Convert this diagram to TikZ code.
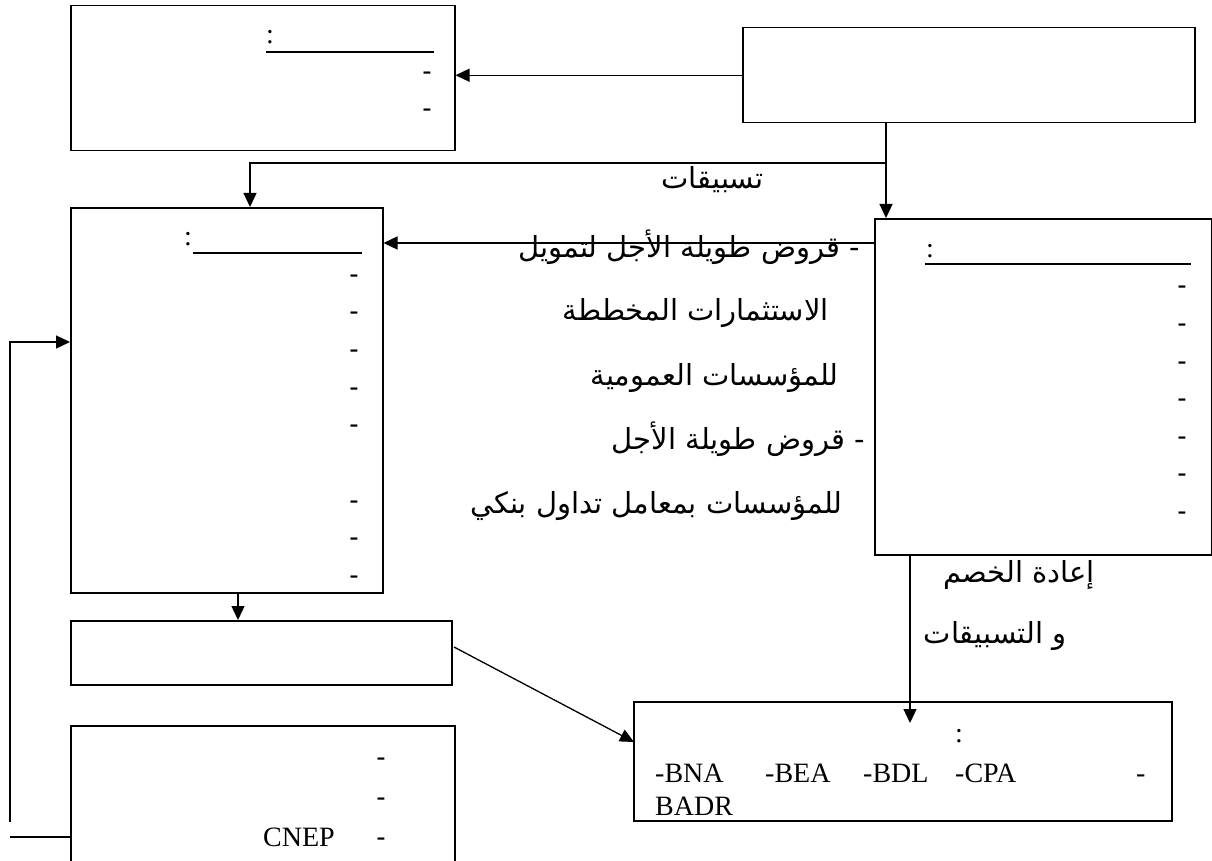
\documentclass[tikz,border=0pt]{standalone}
\usepackage{fontspec}
\usetikzlibrary{arrows.meta}
\TeXXeTstate=1
\newfontfamily\arabicfont[Script=Arabic]{DejaVu Sans}
\newfontfamily\tnr{Liberation Serif}
\newfontfamily\arl{Liberation Sans}
\tikzset{
  box/.style={draw, line width=1.5pt, inner sep=0pt, anchor=north west},
  conn/.style={line width=1.3pt},
  arr/.style={line width=1.3pt, -{Triangle[length=14pt,width=13pt]}},
  ar/.style={font=\arabicfont\fontsize{29}{32}\selectfont, inner sep=0pt, anchor=base east},
  lat/.style={font=\tnr\fontsize{28}{32}\selectfont, inner sep=0pt, anchor=base west},
  dsh/.style={font=\arl\fontsize{28}{32}\selectfont, inner sep=0pt, anchor=base east},
  ul/.style={line width=1.6pt}
}
\begin{document}
\begin{tikzpicture}[x=1pt,y=-1pt]
\useasboundingbox (0,0) rectangle (1212,861);
\clip (0,0) rectangle (1212,861);
\fill[white] (0,0) rectangle (1212,861);
% boxes
\node[box, minimum width=384pt, minimum height=145pt] (A) at (70,5) {};
\node[box, minimum width=452pt, minimum height=95pt] (B) at (742,27) {};
\node[box, minimum width=312pt, minimum height=385pt] (C) at (70,207) {};
\node[box, minimum width=337pt, minimum height=336pt] (D) at (874,218) {};
\node[box, minimum width=381pt, minimum height=64pt] (E) at (70,620) {};
\node[box, minimum width=538pt, minimum height=119pt] (F) at (633,701) {};
\node[box, minimum width=384pt, minimum height=170pt] (G) at (70,725) {};
% box A contents
\node[lat] (acol) at (266,44) {:};
\draw[ul] (266,52) -- (434,52);
\node[dsh] (a1) at (432,81) {-};
\node[dsh] (a2) at (432,118) {-};
% box C contents
\node[lat] (ccol) at (184,245) {:};
\draw[ul] (193,253) -- (362,253);
\foreach \yy/\nm in {275/c1,312/c2,350/c3,388/c4,425/c5,501/c6,538/c7,576/c8}
  \node[dsh] (\nm) at (359,\yy+8) {-};
% box D contents
\node[lat] (dcol) at (926,257) {:};
\draw[ul] (925,264) -- (1191,264);
\foreach \yy/\nm in {286/d1,324/d2,362/d3,399/d4,437/d5,474/d6,512/d7}
  \node[dsh] (\nm) at (1187,\yy+8) {-};
% box F contents
\node[lat] (fcol) at (955,742) {:};
\node[lat] (f1) at (655,782) {-BNA};
\node[lat] (f2) at (765,782) {-BEA};
\node[lat] (f3) at (863,782) {-BDL};
\node[lat] (f4) at (955,782) {-CPA};
\node[lat] (f5) at (1136,782) {-};
\node[lat] (f6) at (655,815) {BADR};
% box G contents
\node[dsh] (g1) at (386,766) {-};
\node[dsh] (g2) at (386,806) {-};
\node[dsh] (g3) at (386,846) {-};
\node[lat, anchor=base east] (g4) at (335,846) {CNEP};
% Arabic labels
\node[ar] (t0) at (764,189) {\beginR تسبيقات\endR};
\node[ar] (t1) at (860,257) {\beginR - قروض طويلة الأجل لتمويل\endR};
\node[ar] (t2) at (829,320) {\beginR الاستثمارات المخططة\endR};
\node[ar] (t3) at (839,385) {\beginR للمؤسسات العمومية\endR};
\node[ar] (t4) at (865,449) {\beginR - قروض طويلة الأجل\endR};
\node[ar] (t5) at (843,513) {\beginR للمؤسسات بمعامل تداول بنكي\endR};
\node[ar] (t6) at (1095,582) {\beginR إعادة الخصم\endR};
\node[ar] (t7) at (1067,643) {\beginR و التسبيقات\endR};
% connectors
\draw[arr] (B.west) -- (B.west -| A.east);
\coordinate (j1) at (886,163);
\coordinate (j2) at (250,163);
\draw[conn] (B.south -| j1) -- (j1);
\draw[arr] (j1) -- (j1 |- D.north);
\draw[arr] (j1) -- (j2) -- (j2 |- C.north);
\coordinate (k1) at (874,243);
\draw[arr] (k1) -- (k1 -| C.east);
\coordinate (m1) at (238,592);
\draw[arr] (m1) -- (m1 |- E.north);
\coordinate (n1) at (454,647);
\coordinate (n2) at (634,742);
\draw[arr] (n1) -- (n2);
\coordinate (p1) at (910,554);
\coordinate (p2) at (910,723);
\draw[arr] (p1) -- (p2);
\coordinate (l1) at (10,822);
\coordinate (l2) at (10,342);
\draw[arr] (l1) -- (l2) -- (l2 -| C.west);
\coordinate (l3) at (10,837);
\draw[conn] (l3 -| G.west) -- (l3);
\end{tikzpicture}
\end{document}
